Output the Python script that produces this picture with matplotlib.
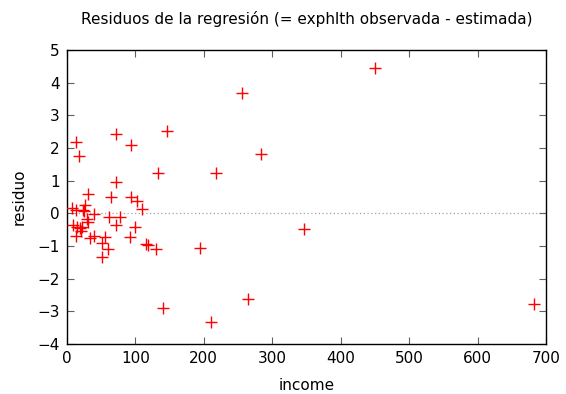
import matplotlib
matplotlib.use("Agg")
import matplotlib.pyplot as plt

# income values and residuals
income = [450.3, 255.6, 72.0, 147.0, 94.0, 14.0, 17.5, 283.3, 132.5, 218.0,
          72.0, 30.5, 64.2, 94.0, 101.8, 110.0, 8.0, 13.0, 26.5, 25.5,
          39.2, 61.2, 77.0, 72.0, 100.2, 29.8, 31.0, 9.7, 15.0, 18.8,
          22.0, 12.8, 20.5, 33.5, 39.2, 56.5, 51.2, 92.5, 115.8, 119.0,
          129.8, 60.0, 51.5, 195.2, 345.7, 140.2, 211.3, 263.9, 682.6, 24.3]
residuo = [4.45, 3.69, 2.42, 2.53, 2.08, 2.17, 1.75, 1.83, 1.24, 1.24,
           0.97, 0.59, 0.50, 0.50, 0.39, 0.14, 0.15, 0.11, 0.27, 0.06,
           -0.02, -0.10, -0.12, -0.37, -0.42, -0.17, -0.28, -0.37, -0.43, -0.46,
           -0.42, -0.68, -0.53, -0.77, -0.70, -0.71, -0.91, -0.72, -0.94, -0.96,
           -1.10, -1.08, -1.34, -1.07, -0.48, -2.91, -3.34, -2.62, -2.77, 0.09]

fig = plt.figure(figsize=(5.66, 3.94), dpi=100)
ax = fig.add_axes([0.118, 0.127, 0.847, 0.746])

ax.axhline(0, color="#a0a0a0", lw=0.9, ls=(0, (1, 2)), zorder=1)
ax.plot(income, residuo, ls="none", marker="+", ms=8, mew=1.0,
        color="#ff0000", zorder=3)

ax.set_xlim(0, 700)
ax.set_ylim(-4, 5)
ax.set_xticks(range(0, 701, 100))
ax.set_yticks(range(-4, 6))
ax.tick_params(direction="in", top=True, right=True, length=5, width=0.8,
               labelsize=11, pad=5, color="#606060")
for s in ax.spines.values():
    s.set_linewidth(1.0)

ax.set_xlabel("income", fontsize=11, labelpad=9)
ax.set_ylabel("residuo", fontsize=11, labelpad=8)
ax.set_title("Residuos de la regresión (= exphlth observada - estimada)",
             fontsize=11, pad=19)

fig.savefig("out.png", dpi=100)
